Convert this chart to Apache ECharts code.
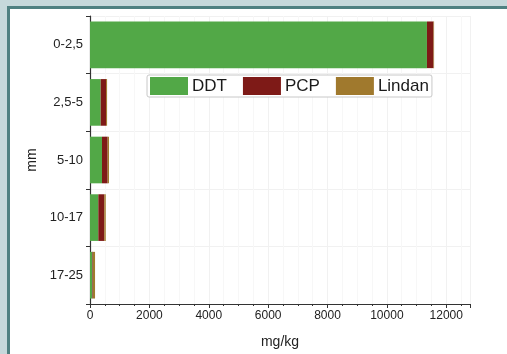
<!DOCTYPE html>
<html><head><meta charset="utf-8">
<script src="https://cdn.jsdelivr.net/npm/echarts@6/dist/echarts.min.js"></script>
<style>
html,body{margin:0;padding:0;width:507px;height:354px;overflow:hidden;background:#fff;}
.s{position:absolute;}
#chart{position:absolute;left:0;top:0;width:507px;height:354px;}
</style></head>
<body>
<div class="s" style="left:0;top:0;width:507px;height:6px;background:#c6d8db"></div>
<div class="s" style="left:0;top:0;width:7px;height:354px;background:#c6d8db"></div>
<div class="s" style="left:7px;top:6px;width:500px;height:3px;background:#4f8081"></div>
<div class="s" style="left:7px;top:6px;width:3px;height:348px;background:#4f8081"></div>
<div id="chart"></div>
<script>
const categories = ['0-2,5','2,5-5','5-10','10-17','17-25'];
const ddt = [11350, 360, 405, 280, 80];
const pcp = [220, 180, 190, 200, 20];
const lindan = [20, 35, 45, 50, 70];
const xTicks = [0, 2000, 4000, 6000, 8000, 10000, 12000];

const chart = echarts.init(document.getElementById('chart'));
const font = 'Liberation Sans, Arial, sans-serif';
chart.setOption({
  backgroundColor: 'transparent',
  animation: false,
  grid: {left: 90, right: 37, top: 16, bottom: 49},
  legend: {
    left: 147, top: 75,
    orient: 'horizontal',
    itemWidth: 38, itemHeight: 18, itemGap: 16,
    padding: [2, 3, 2, 3],
    borderColor: '#c8c8c8', borderWidth: 1, borderRadius: 2,
    backgroundColor: '#fff',
    icon: 'rect',
    textStyle: {fontFamily: font, fontSize: 17, color: '#1a1a1a', padding: [0, 0, 0, -1]},
    data: ['DDT', 'PCP', 'Lindan']
  },
  xAxis: {
    type: 'value', min: 0, max: 12800, interval: 2000,
    name: 'mg/kg', nameLocation: 'middle', nameGap: 31,
    nameTextStyle: {fontFamily: font, fontSize: 14, color: '#222'},
    axisLine: {show: true, lineStyle: {color: '#333', width: 1.2}},
    axisTick: {show: true, length: 4, lineStyle: {color: '#333'}},
    minorTick: {show: true, splitNumber: 4, length: 2, lineStyle: {color: '#333'}},
    axisLabel: {fontFamily: font, fontSize: 12, color: '#222', margin: 6, showMaxLabel: false,
      formatter: v => xTicks.includes(v) ? String(v) : ''},
    splitLine: {show: true, lineStyle: {color: '#f1f1f1'}},
    minorSplitLine: {show: true, lineStyle: {color: '#f7f7f7'}}
  },
  yAxis: {
    type: 'category', data: categories, inverse: true,
    name: 'mm', nameLocation: 'middle', nameGap: 45,
    nameTextStyle: {fontFamily: font, fontSize: 14, color: '#222'},
    axisLine: {show: true, lineStyle: {color: '#333', width: 1.2}},
    axisTick: {show: true, length: 4, lineStyle: {color: '#333'}},
    axisLabel: {fontFamily: font, fontSize: 13, color: '#222', margin: 7},
    splitLine: {show: true, lineStyle: {color: '#f1f1f1'}}
  },
  series: [
    {name: 'DDT', type: 'bar', stack: 'a', data: ddt, barCategoryGap: '19%', itemStyle: {color: '#52a847'}},
    {name: 'PCP', type: 'bar', stack: 'a', data: pcp, itemStyle: {color: '#7e1a17'}},
    {name: 'Lindan', type: 'bar', stack: 'a', data: lindan, itemStyle: {color: '#a0792d'}}
  ]
});
</script></body></html>
